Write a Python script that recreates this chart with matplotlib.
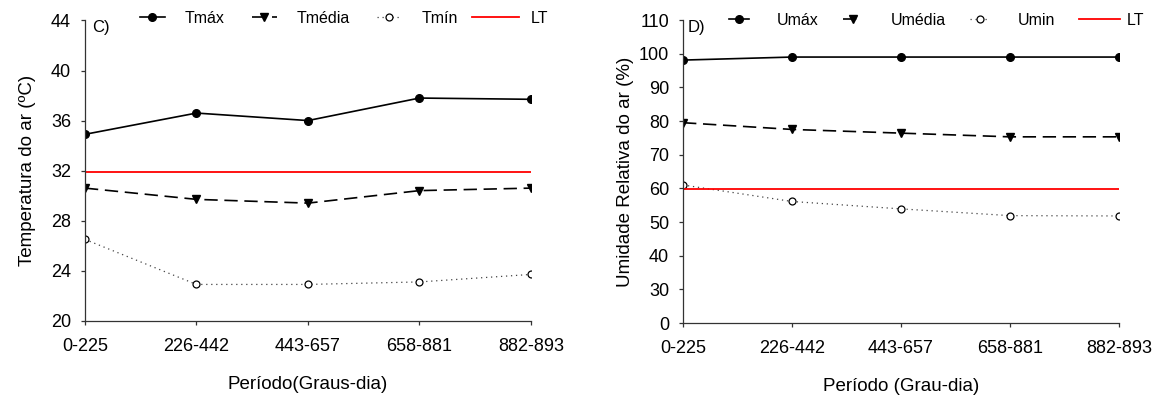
import matplotlib.pyplot as plt
from matplotlib.legend_handler import HandlerLine2D

plt.rcParams['font.family'] = ['Liberation Sans', 'DejaVu Sans']

periodos_c = ['0-225', '226-442', '443-657', '658-881', '882-893']
periodos_d = ['0-225', '226-442', '443-657', '658-881', '882-893']

# temperatura do ar (ºC)
t_max = [34.9, 36.6, 36.0, 37.8, 37.7]
t_media = [30.6, 29.7, 29.4, 30.4, 30.6]
t_min = [26.5, 22.9, 22.9, 23.1, 23.7]
t_lt = 31.9

# umidade relativa do ar (%)
u_max = [98.1, 99.0, 99.0, 99.0, 99.0]
u_media = [79.5, 77.5, 76.4, 75.3, 75.3]
u_min = [61.0, 56.1, 53.9, 51.9, 51.8]
u_lt = 59.8

# eixo da umidade: o primeiro rótulo é "0" (eixo quebrado)
u_ticks = [20, 30, 40, 50, 60, 70, 80, 90, 100, 110]
u_ticklabels = ['0', '30', '40', '50', '60', '70', '80', '90', '100', '110']


class LinhaLT(HandlerLine2D):
    """Traço da legenda com início e comprimento próprios (em fontsize)."""

    def __init__(self, inicio, comprimento, **kw):
        super().__init__(**kw)
        self.inicio = inicio
        self.comprimento = comprimento

    def create_artists(self, legend, orig_handle, xdescent, ydescent,
                       width, height, fontsize, trans):
        return super().create_artists(legend, orig_handle,
                                      -self.inicio * fontsize, ydescent,
                                      self.comprimento * fontsize, height,
                                      fontsize, trans)


fig = plt.figure(figsize=(11.7, 3.98), dpi=100)
ax1 = fig.add_axes([0.0726, 0.1942, 0.3812, 0.7543])
ax2 = fig.add_axes([0.5838, 0.1884, 0.3726, 0.7613])


def desenha(ax, labels, vmax, vmed, vmin, lt, nomes):
    x = range(len(labels))
    ax.plot(x, vmax, color='black', lw=1.2, marker='o', ms=5.5, label=nomes[0])
    ax.plot(x, vmed, color='black', lw=1.2, ls=(0, (8, 4)), marker='v',
            ms=6, label=nomes[1])
    ax.plot(x, vmin, color='#444444', lw=0.9, ls=(0, (1, 3)), marker='o',
            ms=5, mfc='white', mec='black', mew=0.9, label=nomes[2])
    linha = ax.axhline(lt, color='red', lw=1.3, label=nomes[3])
    ax.set_xlim(0, len(labels) - 1)
    ax.set_xticks(list(x))
    ax.set_xticklabels(labels)
    for s in ('top', 'right'):
        ax.spines[s].set_visible(False)
    for s in ('left', 'bottom'):
        ax.spines[s].set_linewidth(0.9)
        ax.spines[s].set_color('#333333')
    ax.tick_params(labelsize=13, length=3, width=0.9, direction='out',
                   color='#333333', pad=7)
    ax.tick_params(axis='x', pad=9.5)
    return linha


lt1 = desenha(ax1, periodos_c, t_max, t_media, t_min, t_lt,
              ['Tmáx', 'Tmédia', 'Tmín', 'LT'])
ax1.set_ylim(20, 44)
ax1.set_yticks(range(20, 45, 4))
ax1.set_ylabel('Temperatura do ar (ºC)', fontsize=13.5, labelpad=11)
ax1.set_xlabel('Período(Graus-dia)', fontsize=13.5, labelpad=15)
ax1.text(0.016, 1.0, 'C)', transform=ax1.transAxes, fontsize=12,
         va='top', ha='left')
ax1.legend(loc='center left', bbox_to_anchor=(0.123, 1.008), ncol=4,
           frameon=False, fontsize=11.5, handlelength=1.56,
           handletextpad=1.25, columnspacing=1.7, borderaxespad=0,
           borderpad=0, handler_map={lt1: LinhaLT(-0.85, 2.95)})

lt2 = desenha(ax2, periodos_d, u_max, u_media, u_min, u_lt,
              ['Umáx', 'Umédia', 'Umin', 'LT'])
ax2.set_ylim(20, 110)
ax2.set_yticks(u_ticks)
ax2.set_yticklabels(u_ticklabels)
ax2.set_ylabel('Umidade Relativa do ar (%)', fontsize=13.5, labelpad=3.5)
ax2.set_xlabel('Período (Grau-dia)', fontsize=13.5, labelpad=15)
ax2.text(0.011, 1.0, 'D)', transform=ax2.transAxes, fontsize=12,
         va='top', ha='left')
ax2.legend(loc='center left', bbox_to_anchor=(0.1055, 1.0), ncol=4,
           frameon=False, fontsize=11.5, handlelength=1.25,
           handletextpad=1.75, columnspacing=1.5, borderaxespad=0,
           borderpad=0, handler_map={lt2: LinhaLT(0.0, 2.55)})

fig.savefig('out.png', dpi=100)
